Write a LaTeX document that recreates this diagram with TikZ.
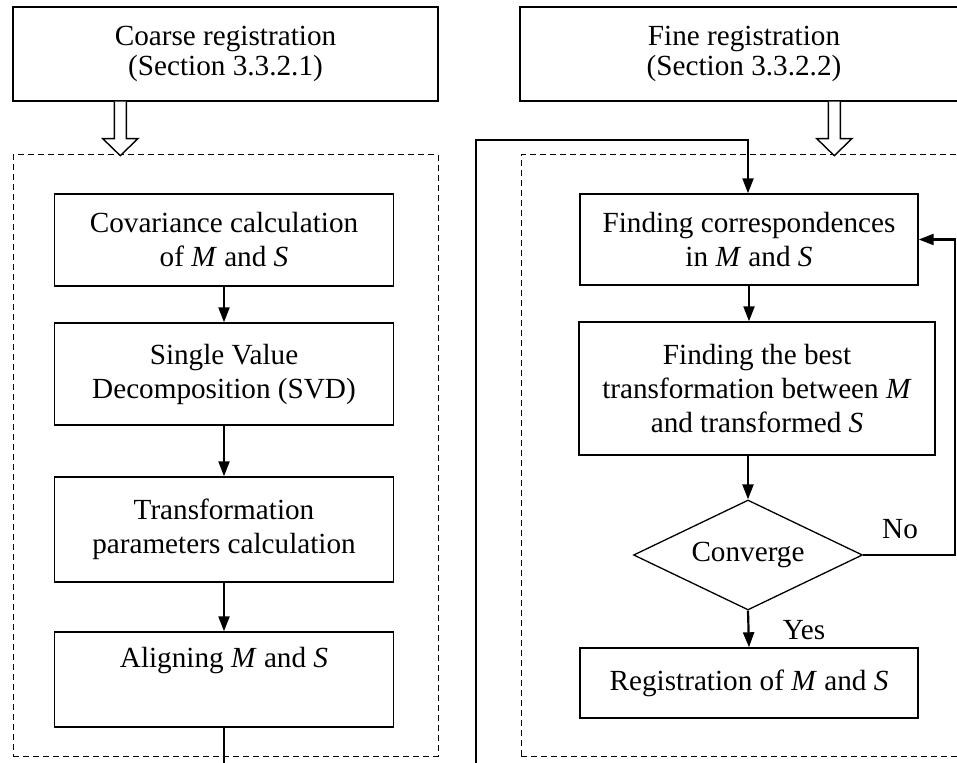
\documentclass[tikz,border=0pt]{standalone}
\usepackage{fontspec}
\setmainfont{Liberation Serif}
\usetikzlibrary{shapes.geometric,arrows.meta,calc}

\tikzset{
  box/.style={draw, line width=0.7pt, rectangle, align=center, inner sep=0pt,
    font=\fontsize{14.6}{17}\selectfont},
  titlebox/.style={box, font=\fontsize{14.6}{15}\selectfont},
  frame/.style={draw, line width=0.5pt, dash pattern=on 3pt off 2pt, rectangle, inner sep=0pt},
  decision/.style={draw, line width=0.65pt, diamond, aspect=2.08, inner sep=0pt,
    minimum width=114.5pt, minimum height=55pt, font=\fontsize{14.6}{17}\selectfont},
  flow/.style={line width=1.1pt, -{Triangle[length=7.5pt,width=5.5pt]}},
  plain/.style={line width=1.1pt},
  hollow/.style={draw, line width=0.7pt, fill=white, line join=miter},
  lbl/.style={font=\fontsize{14.6}{17}\selectfont, inner sep=0pt}
}

\begin{document}
\begin{tikzpicture}[x=0.5pt,y=-0.5pt]
\useasboundingbox (0,0) rectangle (957,763);
\clip (0,0) rectangle (957,763);

% section headers
\node[titlebox, minimum width=212.5pt, minimum height=47pt] (top1) at (225.5,54)
  {Coarse registration\\(Section 3.3.2.1)};
\node[titlebox, minimum width=224pt, minimum height=47pt] (top2) at (744,54)
  {Fine registration\\(Section 3.3.2.2)};

% dashed group frames
\node[frame, minimum width=212.5pt, minimum height=300.5pt] (grp1) at (225.5,455.5) {};
\node[frame, minimum width=223.5pt, minimum height=300.5pt] (grp2) at (744.5,455.5) {};

% hollow block arrows from the headers into the frames
\coordinate (h1) at ($(top1.south west)+(108,0)$);
\coordinate (h2) at ($(top2.south west)+(315,0)$);
\foreach \c in {h1,h2}{
  \path[hollow] ($(\c)+(-6,0)$) -- ($(\c)+(-6,37)$) -- ($(\c)+(-17.5,37)$)
    -- ($(\c)+(0,54)$) -- ($(\c)+(17.5,37)$) -- ($(\c)+(6,37)$) -- ($(\c)+(6,0)$);
}

% coarse registration steps
\node[box, minimum width=169.5pt, minimum height=46pt] (cov) at (224,240)
  {Covariance calculation\\of \textit{M} and \textit{S}};
\node[box, minimum width=169.5pt, minimum height=51pt] (svd) at (224,374)
  {Single Value\\Decomposition (SVD)};
\node[box, minimum width=169.5pt, minimum height=52.5pt] (trf) at (224,529.5)
  {Transformation\\parameters calculation};
\node[box, minimum width=169.5pt, minimum height=47.5pt] (aln) at (224,679.5)
  {Aligning \textit{M} and \textit{S}\\\strut};

% fine registration steps
\node[box, minimum width=169pt, minimum height=45.5pt] (corr) at (749,239.5)
  {Finding correspondences\\in \textit{M} and \textit{S}};
\node[box, minimum width=178pt, minimum height=66.5pt] (best) at (757,388.5)
  {Finding the best\\transformation between \textit{M}\\and transformed \textit{S}};
\node[decision] (conv) at (748,555) {Converge};
\node[box, minimum width=169pt, minimum height=35pt] (reg) at (749,683)
  {Registration of \textit{M} and \textit{S}};

% loose ends and bends of the connectors
\coordinate (outL) at (224,763);
\coordinate (outR) at (476,763);
\coordinate (bendA) at (476,140);
\coordinate (bendB) at (748,140);
\coordinate (loopR) at (955,555);

% coarse chain
\draw[flow] (cov.south) -- (svd.north);
\draw[flow] (svd.south) -- (trf.north);
\draw[flow] (trf.south) -- (aln.north);
\draw[plain] (aln.south) -- (outL);

% fine chain
\draw[flow] (outR) -- (bendA) -- (bendB) -- (bendB |- corr.north);
\draw[flow] (corr.south) -- (corr.south |- best.north);
\draw[flow] (best.south -| conv.north) -- (conv.north);
\draw[flow] (conv.south) -- (reg.north);
\draw[flow] (conv.east) -- (loopR) -- (loopR |- corr.east) -- (corr.east);

% branch labels
\node[lbl] (yes) at (804,630) {Yes};
\node[lbl] (no) at (900,529) {No};
\end{tikzpicture}
\end{document}
